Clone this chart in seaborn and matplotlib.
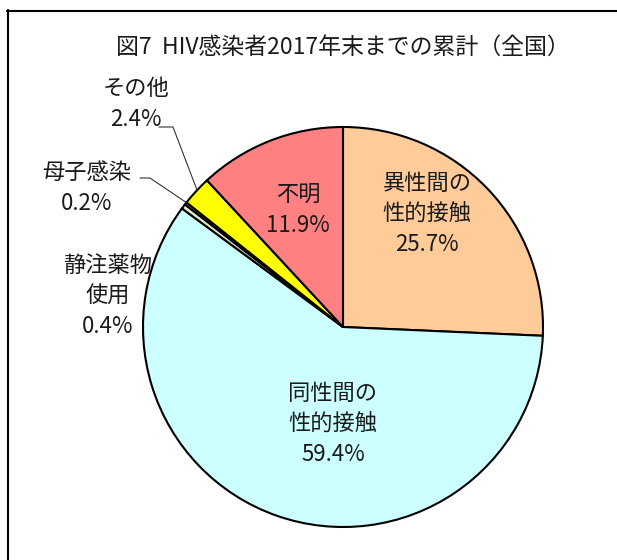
import matplotlib
matplotlib.use("Agg")
import matplotlib.pyplot as plt
from matplotlib.lines import Line2D
import seaborn as sns

# データ (図7 HIV感染者 2017年末までの累計)
labels = ["異性間の\n性的接触", "同性間の\n性的接触", "静注薬物\n使用", "母子感染", "その他", "不明"]
shares = [25.7, 59.4, 0.4, 0.2, 2.4, 11.9]
colors = ["#FFCC99", "#CCFFFF", "#E6E6C8", "#D9D9B8", "#FFFF00", "#FF8080"]
title = "図7  HIV感染者2017年末までの累計（全国）"

sns.set_theme(style="white")
plt.rcParams["font.family"] = ["Noto Sans CJK JP", "DejaVu Sans"]

W, H = 617, 560
fig = plt.figure(figsize=(W / 100, H / 100), dpi=100)
fig.patch.set_facecolor("white")

# pie center (343, 327) px, radius 200 px
cx, cy, r = 343, 327, 200
ax = fig.add_axes([(cx - r) / W, (H - cy - r) / H, 2 * r / W, 2 * r / H])
ax.pie(shares, colors=sns.color_palette(colors), startangle=90, counterclock=False,
       radius=1, wedgeprops=dict(edgecolor="black", linewidth=1.5))
ax.set_xlim(-1, 1)
ax.set_ylim(-1, 1)
ax.set_aspect("equal")
ax.axis("off")


def px(x, y):
    # pixel -> data coords
    return (x - cx) / r, (cy - y) / r


# label positions (pixels)
pos = [(427, 214), (333, 424), (108, 296), (87, 188), (136, 104), (298, 210)]
for lab, val, (x, y) in zip(labels, shares, pos):
    ax.text(*px(x, y), f"{lab}\n{val}%", ha="center", va="center",
            fontsize=16, linespacing=1.4, color="#1a1a1a", clip_on=False)

# leader lines
leaders = {
    "その他": [(159, 127), (173, 127), (197, 190)],
    "母子感染": [(140, 178), (150, 178), (187, 203)],
}
for pts in leaders.values():
    xs, ys = zip(*[px(a, b) for a, b in pts])
    ax.plot(xs, ys, color="#333333", lw=0.8, clip_on=False)

fig.text(343 / W, 1 - 47 / H, title, ha="center", va="center", fontsize=16.5, color="#1a1a1a")

# outer frame (cropped at right/bottom)
fig.add_artist(Line2D([7.5 / W, 7.5 / W], [0, 1 - 10 / H], color="black", lw=1.5))
fig.add_artist(Line2D([7 / W, 1], [1 - 10.5 / H, 1 - 10.5 / H], color="black", lw=1.5))

fig.savefig("out.png", dpi=100)
